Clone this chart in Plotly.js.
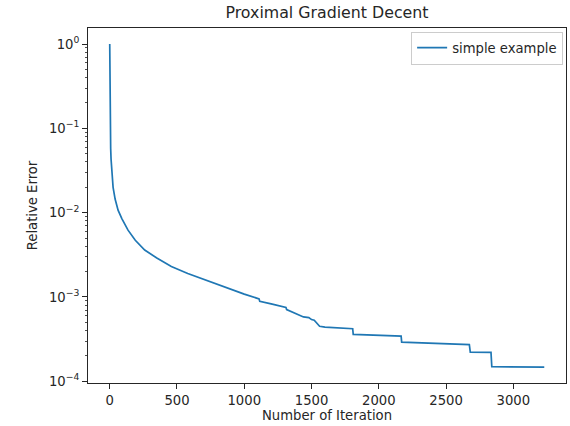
<!DOCTYPE html>
<html>
<head>
<meta charset="utf-8">
<script src="https://cdn.plot.ly/plotly-3.0.1.min.js"></script>
<style>
  html, body { margin: 0; padding: 0; background: #fff; }
  #chart { width: 570px; height: 426px; }
</style>
</head>
<body>
<div id="chart"></div>
<script>
// Iteration numbers (x)
var iterations = [0, 1, 2, 3, 5, 7, 10, 15, 25, 40, 62, 90, 136, 190, 260, 350, 458, 580, 705, 850, 1000,
  1110, 1115, 1200, 1310, 1315, 1360, 1400, 1420, 1440, 1480, 1500, 1520, 1540, 1560, 1600, 1700,
  1806, 1810, 2000, 2166, 2170, 2400, 2673, 2680, 2834, 2840, 3230];
// Relative error values (y)
var relError = [1.0, 0.4, 0.2, 0.13, 0.085, 0.058, 0.043, 0.031, 0.020, 0.0145, 0.0107, 0.0085, 0.0062, 0.0047,
  0.0036, 0.0029, 0.0023, 0.0019, 0.0016, 0.0013, 0.00108,
  0.00095, 0.00089, 0.00083, 0.00075, 0.00071, 0.00066, 0.00062, 0.00060, 0.00058, 0.00057, 0.00054,
  0.00053, 0.00049, 0.00045, 0.00044, 0.00043,
  0.00042, 0.00036, 0.00035, 0.000343, 0.000291, 0.000282, 0.000273, 0.000222, 0.00022, 0.000149, 0.000147];

var seriesName = "simple example";
var chartTitle = "Proximal Gradient Decent";
var xTitle = "Number of Iteration";
var yTitle = "Relative Error";

var xTickVals = [0, 500, 1000, 1500, 2000, 2500, 3000];
var yTickVals = [1, 0.1, 0.01, 0.001, 0.0001];
var yTickText = ["10<sup>0</sup>", "10<sup>\u22121</sup>", "10<sup>\u22122</sup>", "10<sup>\u22123</sup>", "10<sup>\u22124</sup>"];

// minor log ticks 2..9 x 10^k
var yMinorVals = [];
[-5, -4, -3, -2, -1, 0].forEach(function (k) {
  for (var m = 2; m <= 9; m++) yMinorVals.push(m * Math.pow(10, k));
});

var font = "DejaVu Sans, sans-serif";
var ink = "#262626";

var trace = {
  x: iterations,
  y: relError,
  type: "scatter",
  mode: "lines",
  name: seriesName,
  line: { color: "#1f77b4", width: 1.7 }
};

var layout = {
  width: 570,
  height: 426,
  margin: { l: 88, r: 4, t: 28, b: 43 },
  paper_bgcolor: "#ffffff",
  plot_bgcolor: "#ffffff",
  font: { family: font, size: 13.2, color: ink },
  title: {
    text: chartTitle,
    font: { family: font, size: 15.8, color: ink },
    x: 0.5, xref: "paper", xanchor: "center",
    y: 0.971, yref: "container", yanchor: "middle"
  },
  showlegend: true,
  legend: {
    x: 0.994, xanchor: "right", y: 0.99, yanchor: "top",
    bordercolor: "#cccccc", borderwidth: 1, bgcolor: "rgba(255,255,255,0.8)",
    font: { family: font, size: 13.2, color: ink },
    itemwidth: 30
  },
  xaxis: {
    range: [-161.5, 3391.5],
    tickmode: "array",
    tickvals: xTickVals,
    ticks: "outside", ticklen: 5, tickwidth: 1, tickcolor: ink,
    showgrid: false, zeroline: false,
    showline: true, mirror: true, linecolor: ink, linewidth: 1,
    tickfont: { family: font, size: 13.2, color: ink },
    title: { text: xTitle, font: { family: font, size: 13.2, color: ink }, standoff: 3 }
  },
  yaxis: {
    type: "log",
    range: [-4.02, 0.19],
    tickmode: "array",
    tickvals: yTickVals,
    ticktext: yTickText,
    ticks: "outside", ticklen: 5, tickwidth: 1, tickcolor: ink,
    minor: { tickmode: "array", tickvals: yMinorVals, ticks: "outside", ticklen: 2.5, tickwidth: 0.8, tickcolor: ink, showgrid: false },
    showgrid: false, zeroline: false,
    showline: true, mirror: true, linecolor: ink, linewidth: 1,
    tickfont: { family: font, size: 13.2, color: ink },
    title: { text: yTitle, font: { family: font, size: 13.2, color: ink }, standoff: 8 }
  }
};

Plotly.newPlot("chart", [trace], layout, { displayModeBar: false, staticPlot: true });
</script>
</body>
</html>
